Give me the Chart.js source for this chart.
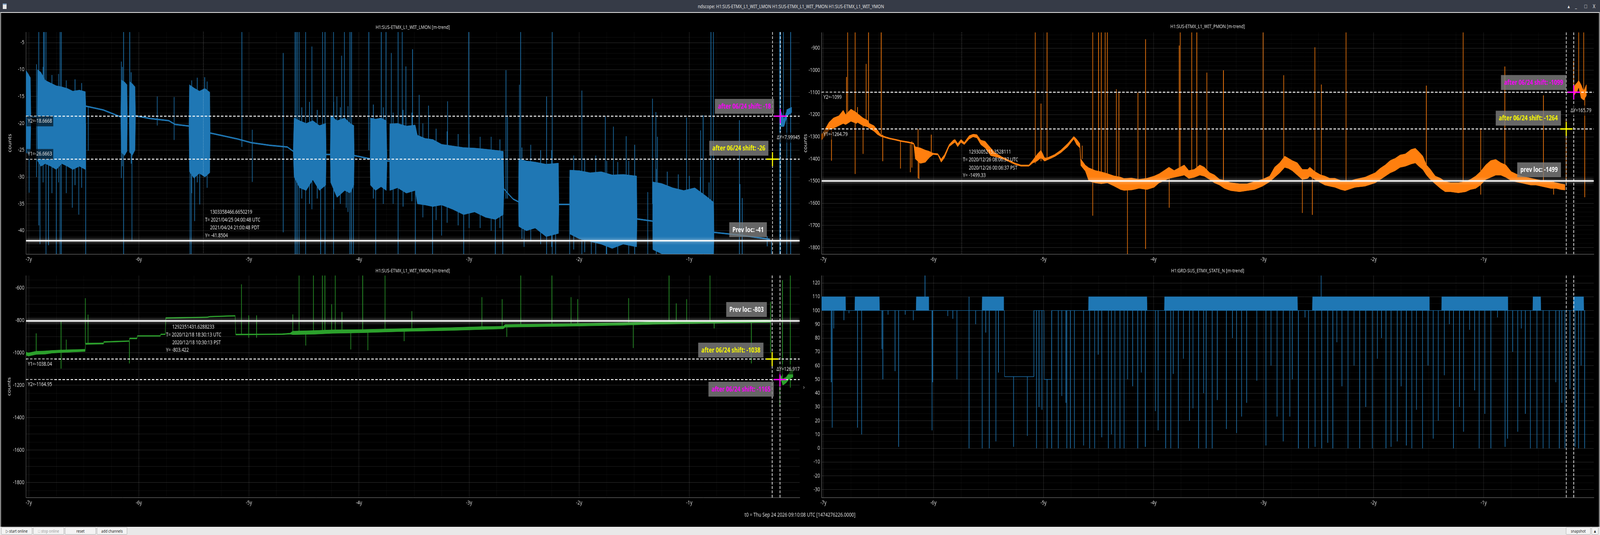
<!DOCTYPE html>
<html>
<head>
<meta charset="utf-8">
<title>ndscope</title>
<script src="https://cdn.jsdelivr.net/npm/chart.js@4.4.1/dist/chart.umd.min.js"></script>
<style>
    html, body { margin: 0; padding: 0; background: #000; overflow: hidden; font-family: "Noto Sans", sans-serif; }
    #page { position: absolute; left: 0; top: 0; width: 5120px; height: 1369px; transform-origin: 0 0; background: #000; }
    #titlebar { position: absolute; left: 0; top: 0; width: 5120px; height: 32px; background: #363b47; color: #e4e4e4; font-size: 13px; }
    #titlebar .t { position: absolute; left: 2233px; top: 7px; white-space: nowrap; }
    #titlebar .icon { position: absolute; left: 9px; top: 9px; width: 12px; height: 14px; background: #e8e8e8; border-top: 3px solid #7a9cc0; box-sizing: border-box; }
    #titlebar .ctl { position: absolute; top: 6px; font-size: 14px; }
    #frame { position: absolute; left: 1px; top: 31px; width: 5114px; height: 1316px; border: 2px solid #e6e6e6; border-bottom: none; }
    canvas { position: absolute; }
    #t0 { position: absolute; left: 0; top: 1307px; width: 5120px; text-align: center; color: #e0e0e0; font-size: 14px; }
    #chev { position: absolute; left: 2570px; top: 979px; color: #bbb; font-size: 16px; }
    #toolbar { position: absolute; left: 0; top: 1348px; width: 5120px; height: 21px; background: #e9e9e9; }
    #toolbar .b { position: absolute; top: 1px; height: 19px; border: 1px solid #a8a8a8; border-radius: 2px; background: #f4f4f4; font-size: 11px; line-height: 18px; color: #222; text-align: center; box-sizing: border-box; }
</style>
</head>
<body>
<div id="page">
<div id="titlebar">
    <div class="icon"></div>
    <div class="t">ndscope: H1:SUS-ETMX_L1_WIT_LMON H1:SUS-ETMX_L1_WIT_PMON H1:SUS-ETMX_L1_WIT_YMON</div>
    <div class="ctl" style="left:5016px">&#9652;</div>
    <div class="ctl" style="left:5040px">_</div>
    <div class="ctl" style="left:5070px">&#9633;</div>
    <div class="ctl" style="left:5097px">X</div>
</div>
<div id="frame"></div>

<canvas id="p1" width="2570" height="647" style="left:0;top:33px"></canvas>
<canvas id="p2" width="2550" height="647" style="left:2570px;top:33px"></canvas>
<canvas id="p3" width="2570" height="640" style="left:0;top:680px"></canvas>
<canvas id="p4" width="2550" height="640" style="left:2570px;top:680px"></canvas>

<div id="chev">&#8250;</div>
<div id="t0">t0 = Thu Sep 24 2026 09:10:08 UTC [1474276226.0000]</div>
<div id="toolbar">
    <div class="b" style="left:4px;width:99px;">&#9655; start online</div>
    <div class="b" style="left:106px;width:99px;color:#999;">&#9633; stop online</div>
    <div class="b" style="left:208px;width:99px;">reset</div>
    <div class="b" style="left:310px;width:97px;">add channels</div>
    <div class="b" style="left:5011px;width:79px;">snapshot</div>
    <div class="b" style="left:5093px;width:22px;">&#9650;</div>
</div>
</div>

<script>
/**
 * Data: time in years relative to t0; envelopes are [t, min, max] (null = gap),
 * spikes are [t, low, high]
 */
const xLabels = [-7, -6, -5, -4, -3, -2, -1];

// H1:SUS-ETMX_L1_WIT_LMON
const lmonYLabels = [-40, -35, -30, -25, -20, -15, -10, -5];
const lmonEnv = [
    [-7.026, -25.4, -10.1], [-7.005, -25.8, -10.8], [-6.985, -25.0, -11.5],
    [-6.980, -18.9, -18.7], [-6.922, -18.9, -18.7],
    [-6.920, -27.0, -10.0], [-6.890, -28.0, -10.5], [-6.850, -27.5, -12.0], [-6.800, -28.0, -12.5],
    [-6.750, -28.6, -13.0], [-6.700, -27.5, -13.2], [-6.650, -28.0, -13.5], [-6.600, -28.6, -14.0],
    [-6.540, -28.0, -13.8], [-6.486, -28.6, -14.1],
    [-6.482, -16.9, -16.7], [-6.324, -17.6, -17.4], [-6.165, -18.9, -18.7],
    [-6.160, -25.4, -11.9], [-6.130, -26.0, -12.3], [-6.108, -25.2, -12.8],
    [-6.104, -18.8, -18.6], [-6.088, -18.8, -18.6],
    [-6.085, -25.4, -12.2], [-6.060, -26.0, -12.6], [-6.035, -25.0, -13.2],
    [-6.030, -18.7, -18.5], [-5.898, -19.2, -19.0], [-5.728, -19.6, -19.4], [-5.671, -20.3, -20.1], [-5.545, -20.6, -20.4],
    [-5.541, -29.0, -12.8], [-5.500, -30.2, -13.4], [-5.450, -29.3, -14.0], [-5.400, -30.0, -13.5], [-5.356, -29.2, -14.2],
    [-5.352, -21.9, -21.7], [-5.106, -23.0, -22.8], [-4.979, -23.7, -23.5], [-4.808, -24.2, -24.0],
    [-4.652, -24.5, -24.3], [-4.598, -25.3, -25.1],
    [-4.590, -30.0, -19.0], [-4.540, -32.0, -19.5], [-4.480, -32.5, -20.0], [-4.420, -30.5, -19.5],
    [-4.360, -32.5, -20.4], [-4.302, -31.5, -20.0],
    [-4.298, -25.9, -25.7], [-4.262, -25.9, -25.7],
    [-4.258, -31.0, -18.5], [-4.200, -33.8, -19.5], [-4.130, -32.5, -19.0], [-4.080, -33.0, -20.0], [-4.047, -31.5, -20.4],
    [-4.043, -26.1, -25.9], [-3.899, -26.7, -26.5],
    [-3.897, -31.5, -19.0], [-3.850, -32.5, -19.2], [-3.800, -31.8, -19.0], [-3.752, -32.5, -19.5],
    [-3.745, -27.1, -26.9], [-3.723, -27.1, -26.9],
    [-3.721, -32.5, -20.1], [-3.650, -32.0, -20.0], [-3.570, -33.0, -20.5], [-3.490, -32.5, -20.3],
    [-3.470, -35.0, -22.2], [-3.400, -35.2, -22.8], [-3.330, -35.5, -23.0], [-3.250, -35.2, -23.9],
    [-3.150, -36.0, -24.2], [-3.050, -37.0, -24.5], [-2.950, -36.5, -24.6], [-2.850, -37.5, -24.8],
    [-2.760, -37.9, -25.0], [-2.690, -37.0, -25.2],
    [-2.683, -32.3, -32.1], [-2.650, -33.1, -32.9], [-2.600, -34.2, -34.0], [-2.552, -34.7, -34.5],
    [-2.549, -39.2, -26.6], [-2.480, -40.0, -27.0], [-2.400, -39.5, -27.2], [-2.300, -41.1, -27.6], [-2.188, -40.5, -27.4],
    [-2.184, -35.2, -35.0], [-2.088, -35.2, -35.0],
    [-2.086, -40.6, -28.7], [-2.000, -41.5, -28.8], [-1.900, -42.0, -29.2], [-1.800, -42.5, -29.0],
    [-1.700, -43.3, -29.6], [-1.600, -42.5, -29.5], [-1.478, -43.0, -29.8],
    [-1.474, -37.9, -37.7], [-1.333, -38.3, -38.1],
    [-1.331, -43.5, -30.9], [-1.250, -44.3, -31.2], [-1.150, -44.3, -32.0], [-1.050, -44.3, -32.5],
    [-0.950, -44.3, -32.0], [-0.850, -44.3, -33.5], [-0.778, -44.3, -34.7],
    [-0.775, -40.4, -40.2], [-0.545, -40.9, -40.7], [-0.298, -41.6, -41.4], [-0.270, -41.7, -41.5],
    null,
    [-0.170, -20.6, -17.6], [-0.140, -20.6, -19.2], [-0.110, -18.6, -17.4], [-0.071, -18.0, -17.0]
];
const lmonSpikes = [
    [-6.997, -32.9, -12], [-6.930, -30, -9], [-6.909, -39, -2], [-6.898, -42.5, -20], [-6.870, -31, -9.5],
    [-6.866, -22, -2], [-6.858, -20, -2], [-6.844, -45, -2], [-6.821, -42.7, -20], [-6.790, -33, -11],
    [-6.750, -45, -22], [-6.730, -31, -10.8], [-6.716, -45, -2], [-6.705, -45, -2], [-6.660, -33, -12],
    [-6.605, -35.7, -20], [-6.580, -31.5, -11.8], [-6.546, -37, -20], [-6.520, -32, -12.5],
    [-6.483, -45, -20], [-6.460, -25.1, -17], [-6.159, -30.2, -8.5], [-6.150, -28, -9.5],
    [-6.139, -45, -2], [-6.083, -20, -2], [-6.070, -27.5, -10.5], [-6.063, -42, -20],
    [-5.833, -20.4, -15], [-5.680, -23.1, -15.1], [-5.535, -45, -13], [-5.524, -45, -20],
    [-5.520, -33, -12], [-5.493, -38.2, -20], [-5.470, -31, -11.5], [-5.447, -35.1, -20],
    [-5.402, -22, -11.4], [-5.380, -32, -12.2],
    [-5.064, -24.4, -2], [-4.970, -30.9, -21.2], [-4.689, -40.3, -6.9],
    [-4.581, -45, -2], [-4.570, -45, -2], [-4.559, -45, -2], [-4.544, -45, -2], [-4.520, -34, -17],
    [-4.485, -45, -2], [-4.450, -35, -16], [-4.428, -36, -5.7], [-4.380, -34, -17.5],
    [-4.349, -45, -25], [-4.331, -25, -2], [-4.309, -45, -2], [-4.232, -45, -2], [-4.230, -36, -16],
    [-4.201, -25, -15], [-4.170, -35, -17], [-4.158, -25, -7.4], [-4.133, -25, -2], [-4.116, -35.7, -25],
    [-4.100, -36.5, -16.8], [-4.082, -45, -2], [-4.068, -45, -2], [-4.051, -45, -25], [-3.911, -25, -2],
    [-3.870, -34, -16.5], [-3.849, -45, -25], [-3.798, -25, -2], [-3.780, -35, -17], [-3.755, -25, -2],
    [-3.707, -25, -6.9], [-3.690, -35, -18], [-3.645, -45, -2], [-3.608, -25, -2], [-3.600, -35.5, -17.5],
    [-3.574, -25, -9.4], [-3.520, -34.5, -18], [-3.514, -25, -6.2], [-3.488, -45, -28], [-3.454, -25, -14.7],
    [-3.420, -37.5, -20], [-3.369, -25, -16.7], [-3.332, -45, -28], [-3.300, -38, -21], [-3.250, -40.9, -30],
    [-3.200, -38.5, -21.5], [-3.196, -26, -15.9], [-3.100, -39, -22], [-3.049, -45, -30], [-3.003, -30, -2],
    [-3.000, -39.5, -22], [-2.900, -39.5, -22.5], [-2.800, -40, -22.5], [-2.762, -45, -30],
    [-2.720, -39.5, -23], [-2.694, -45, -30], [-2.665, -34, -10.1], [-2.651, -34, -18.5],
    [-2.543, -30, -12.8], [-2.532, -30, -2], [-2.520, -41.5, -24.5], [-2.501, -43, -30],
    [-2.440, -42, -24], [-2.350, -42.5, -25], [-2.296, -45, -15], [-2.250, -43, -25], [-2.245, -45, -2],
    [-2.214, -45, -30], [-2.086, -45, -30], [-2.050, -43.5, -26], [-1.976, -45, -13.9], [-1.950, -44, -26.5],
    [-1.890, -45, -30], [-1.850, -44.5, -26], [-1.763, -32, -18.7], [-1.754, -45, -32], [-1.750, -45, -27],
    [-1.689, -32, -20.6], [-1.650, -44.5, -27.2], [-1.573, -32, -22.4], [-1.550, -45, -27],
    [-1.496, -45, -24], [-1.377, -45, -32.8], [-1.334, -35, -15.4], [-1.303, -35, -17.9],
    [-1.300, -45, -28.5], [-1.289, -35, -22.5], [-1.200, -45, -29], [-1.100, -45, -29.5],
    [-1.025, -35, -18.9], [-1.000, -45, -29.8], [-0.900, -45, -30], [-0.897, -35, -21.3],
    [-0.874, -35, -18.5], [-0.820, -45, -31], [-0.803, -45, -2], [-0.781, -35, -2],
    [-0.545, -45, -19.4], [-0.539, -41, -31.3], [-0.519, -45, -33.9], [-0.292, -42.9, -41],
    [-0.253, -45, -41.7], [-0.179, -45, -2], [-0.170, -45, -2], [-0.145, -20.6, -2],
    [-0.114, -45, -17.4], [-0.079, -45, -2]
];

// H1:SUS-ETMX_L1_WIT_PMON
const pmonYLabels = [-1800, -1700, -1600, -1500, -1400, -1300, -1200, -1100, -1000, -900];
const pmonEnv = [
    [-7.018, -1315, -1290], [-6.990, -1300, -1270], [-6.950, -1270, -1235], [-6.909, -1262, -1215],
    [-6.860, -1250, -1205], [-6.820, -1240, -1180], [-6.798, -1245, -1200], [-6.750, -1230, -1175],
    [-6.700, -1240, -1190], [-6.690, -1235, -1195], [-6.640, -1250, -1215], [-6.600, -1255, -1225],
    [-6.582, -1262, -1240], [-6.540, -1275, -1250], [-6.508, -1290, -1270], [-6.480, -1298, -1290],
    [-6.455, -1302, -1296], [-6.400, -1310, -1305], [-6.350, -1315, -1310], [-6.292, -1322, -1317],
    [-6.230, -1327, -1322], [-6.180, -1333, -1328], [-6.165, -1400, -1345], [-6.120, -1420, -1350],
    [-6.074, -1415, -1360], [-6.040, -1395, -1365], [-6.003, -1380, -1374], [-5.960, -1382, -1376],
    [-5.930, -1415, -1400], [-5.900, -1395, -1380], [-5.858, -1345, -1335], [-5.820, -1330, -1315],
    [-5.804, -1325, -1312], [-5.780, -1345, -1330], [-5.750, -1325, -1312], [-5.720, -1335, -1325],
    [-5.676, -1310, -1295], [-5.640, -1300, -1288], [-5.605, -1305, -1290], [-5.570, -1335, -1315],
    [-5.531, -1350, -1320], [-5.480, -1385, -1350], [-5.440, -1390, -1372], [-5.380, -1398, -1390],
    [-5.315, -1412, -1405], [-5.260, -1425, -1418], [-5.205, -1433, -1427], [-5.133, -1433, -1427],
    [-5.097, -1418, -1405], [-5.060, -1410, -1380], [-5.023, -1395, -1360], [-4.990, -1410, -1395],
    [-4.968, -1405, -1395], [-4.900, -1390, -1380], [-4.843, -1372, -1360], [-4.780, -1345, -1330],
    [-4.725, -1310, -1298], [-4.700, -1335, -1310], [-4.670, -1350, -1330], [-4.661, -1430, -1400],
    [-4.620, -1455, -1428], [-4.588, -1500, -1440],
    [-4.530, -1508, -1452], [-4.475, -1512, -1458],
    [-4.420, -1508, -1466], [-4.361, -1522, -1476], [-4.300, -1538, -1482], [-4.269, -1542, -1488],
    [-4.200, -1540, -1486], [-4.132, -1533, -1492], [-4.060, -1538, -1487], [-3.995, -1528, -1477],
    [-3.950, -1508, -1467], [-3.904, -1498, -1452], [-3.860, -1488, -1437], [-3.813, -1483, -1452],
    [-3.721, -1473, -1427], [-3.680, -1488, -1452], [-3.630, -1483, -1447], [-3.580, -1473, -1427],
    [-3.539, -1478, -1437], [-3.490, -1493, -1462], [-3.447, -1508, -1472], [-3.400, -1518, -1492],
    [-3.356, -1533, -1497], [-3.300, -1543, -1507], [-3.219, -1548, -1512], [-3.150, -1543, -1512],
    [-3.082, -1538, -1502], [-3.010, -1523, -1492], [-2.945, -1503, -1477], [-2.900, -1483, -1437],
    [-2.854, -1463, -1417], [-2.808, -1438, -1387], [-2.774, -1443, -1397], [-2.740, -1453, -1407],
    [-2.694, -1473, -1417], [-2.648, -1493, -1447], [-2.600, -1488, -1447], [-2.580, -1478, -1437],
    [-2.534, -1493, -1457], [-2.480, -1508, -1472], [-2.443, -1518, -1477], [-2.400, -1523, -1487],
    [-2.352, -1528, -1487], [-2.300, -1538, -1497], [-2.260, -1543, -1502], [-2.200, -1533, -1497],
    [-2.169, -1528, -1492], [-2.078, -1523, -1482], [-1.986, -1508, -1462], [-1.940, -1493, -1442],
    [-1.895, -1478, -1427], [-1.850, -1463, -1407], [-1.804, -1453, -1397], [-1.760, -1438, -1382],
    [-1.712, -1433, -1377], [-1.660, -1423, -1357], [-1.621, -1418, -1352], [-1.590, -1433, -1367],
    [-1.553, -1448, -1387], [-1.520, -1473, -1427], [-1.484, -1493, -1447], [-1.440, -1513, -1477],
    [-1.393, -1533, -1487], [-1.350, -1548, -1502], [-1.301, -1548, -1507], [-1.230, -1553, -1507],
    [-1.164, -1548, -1502], [-1.120, -1538, -1492], [-1.073, -1533, -1477], [-1.030, -1518, -1457],
    [-0.982, -1493, -1427], [-0.936, -1483, -1407], [-0.890, -1473, -1402], [-0.845, -1473, -1417],
    [-0.799, -1483, -1427], [-0.750, -1498, -1457], [-0.708, -1503, -1467], [-0.660, -1508, -1477],
    [-0.616, -1513, -1482], [-0.570, -1518, -1487], [-0.525, -1518, -1492], [-0.480, -1523, -1497],
    [-0.434, -1528, -1497], [-0.390, -1533, -1502], [-0.342, -1533, -1507], [-0.300, -1538, -1512],
    [-0.262, -1540, -1515],
    null,
    [-0.180, -1115, -1075], [-0.169, -1105, -1065], [-0.150, -1095, -1055], [-0.137, -1075, -1045],
    [-0.115, -1125, -1065], [-0.091, -1135, -1095], [-0.068, -1115, -1065]
];
const pmonSpikes = [
    [-6.927, -1408, -1250], [-6.790, -1230, -1030], [-6.780, -1240, -820], [-6.712, -1468, -820],
    [-6.690, -1220, -1166], [-6.640, -1377, -1230], [-6.612, -1230, -971], [-6.590, -1250, -820],
    [-6.475, -1290, -820], [-6.461, -1410, -1290], [-6.300, -1443, -1320], [-6.210, -1460, -1333],
    [-6.196, -1439, -1320], [-6.140, -1487, -1265], [-6.132, -1490, -1400], [-6.020, -1380, -1290],
    [-5.075, -1420, -820], [-5.023, -1410, -1150], [-4.968, -1400, -820], [-4.648, -1400, -1340],
    [-4.553, -1656, -820], [-4.500, -1480, -820], [-4.475, -1480, -820], [-4.440, -1480, -820],
    [-4.420, -1480, -820], [-4.338, -1480, -1085],
    [-4.315, -1480, -1097], [-4.237, -1840, -1500], [-4.142, -1500, -1101], [-4.073, -1806, -860],
    [-3.858, -1620, -1480], [-3.767, -1470, -888], [-3.758, -1470, -820], [-3.653, -1450, -820],
    [-3.607, -1450, -820], [-3.516, -1450, -1010], [-3.365, -1500, -1000], [-3.005, -1500, -820],
    [-2.817, -1420, -1022], [-2.648, -1644, -1460], [-2.557, -1652, -1460], [-2.534, -1460, -896],
    [-2.475, -1490, -1064], [-2.251, -1510, -820], [-1.521, -1460, -1069], [-1.187, -1520, -820],
    [-1.027, -1561, -1262], [-0.808, -1450, -983], [-0.457, -1500, -1113], [-0.365, -1561, -1500],
    [-0.251, -1510, -1219], [-0.183, -1100, -959], [-0.137, -1080, -820], [-0.091, -1120, -820],
    [-0.082, -1573, -1100]
];

// H1:SUS-ETMX_L1_WIT_YMON
const ymonYLabels = [-1800, -1600, -1400, -1200, -1000, -800, -600];
const ymonEnv = [
    [-7.027, -1015, -995], [-7.003, -1020, -1000], [-6.933, -1010, -990], [-6.850, -1008, -988],
    [-6.792, -1002, -985], [-6.700, -998, -982], [-6.600, -995, -980], [-6.500, -992, -978],
    [-6.488, -992, -978], [-6.484, -948, -940], [-6.321, -946, -938], [-6.319, -936, -930],
    [-6.156, -932, -926], [-6.088, -930, -925], [-6.084, -914, -908], [-6.017, -914, -908],
    [-6.013, -898, -893], [-5.805, -898, -893], [-5.801, -888, -883], [-5.760, -888, -883],
    [-5.756, -788, -782], [-5.379, -783, -778], [-5.355, -779, -774], [-5.125, -774, -769],
    [-5.120, -890, -884], [-4.700, -888, -882], [-4.625, -885, -878], [-4.602, -888, -866],
    [-4.400, -885, -862], [-4.249, -880, -858], [-3.967, -876, -856], [-3.590, -868, -850],
    [-3.166, -862, -844], [-2.884, -856, -838], [-2.690, -852, -836], [-2.672, -842, -825],
    [-2.083, -836, -820], [-1.613, -830, -814], [-1.330, -824, -808], [-0.812, -818, -801],
    [-0.300, -813, -797], [-0.262, -812, -798],
    null,
    [-0.178, -1180, -1150], [-0.165, -1170, -1140], [-0.150, -1200, -1160], [-0.120, -1185, -1150],
    [-0.090, -1160, -1120], [-0.059, -1150, -1100]
];
const ymonSpikes = [
    [-6.933, -1010, -880], [-6.707, -1097, -806], [-6.660, -990, -918], [-6.486, -944, -663],
    [-6.462, -944, -764], [-6.086, -1065, -928], [-5.068, -886, -577], [-5.002, -907, -769],
    [-4.931, -907, -769], [-4.602, -880, -763], [-4.545, -880, -510], [-4.484, -955, -870],
    [-4.414, -880, -510], [-4.333, -880, -510], [-4.310, -880, -510], [-4.249, -880, -700],
    [-4.216, -880, -510], [-4.155, -880, -748], [-4.075, -979, -870], [-3.967, -870, -510],
    [-3.920, -984, -865], [-3.764, -865, -510], [-3.590, -928, -855], [-3.520, -855, -743],
    [-2.884, -850, -656], [-2.700, -840, -669], [-2.658, -902, -835], [-2.531, -835, -510],
    [-2.248, -830, -510], [-2.074, -828, -656], [-2.013, -828, -669], [-1.551, -820, -663],
    [-1.509, -970, -820], [-1.184, -815, -510], [-1.118, -815, -695], [-1.024, -815, -669],
    [-0.812, -810, -510], [-0.774, -849, -805], [-0.436, -1065, -800], [-0.262, -1000, -685],
    [-0.177, -1330, -1150], [-0.153, -1150, -552], [-0.082, -1214, -510]
];

// H1:GRD-SUS_ETMX_STATE_N
const stateYLabels = [-30, -20, -10, 0, 10, 20, 30, 40, 50, 60, 70, 80, 90, 100, 110, 120];
const stateEnv = [
    [-7.021, 100, 110], [-6.800, 100, 110], [-6.798, 100, 100], [-6.715, 100, 100],
    [-6.713, 100, 110], [-6.492, 100, 110], [-6.490, 100, 100], [-6.158, 100, 100],
    [-6.156, 100, 110], [-6.045, 100, 110], [-6.043, 100, 100], [-5.559, 100, 100],
    [-5.557, 100, 110], [-5.364, 100, 110], [-5.362, 100, 100], [-5.356, 100, 100],
    [-5.354, 52, 52], [-5.088, 52, 52], [-5.086, 100, 100], [-4.996, 100, 100],
    [-4.994, 50, 50], [-4.927, 50, 50], [-4.925, 100, 100], [-4.592, 100, 100],
    [-4.590, 100, 110], [-4.061, 100, 110], [-4.059, 100, 100], [-3.902, 100, 100],
    [-3.900, 100, 110], [-2.693, 100, 110], [-2.691, 100, 100], [-2.557, 100, 100],
    [-2.555, 100, 110], [-1.496, 100, 110], [-1.494, 100, 100], [-1.383, 100, 100],
    [-1.381, 100, 110], [-0.783, 100, 110], [-0.781, 100, 100], [-0.554, 100, 100],
    [-0.552, 100, 110], [-0.483, 100, 110], [-0.481, 100, 100], [-0.186, 100, 100],
    [-0.184, 100, 110], [-0.092, 100, 110], [-0.090, 100, 100], [-0.078, 100, 100]
];
const stateSpikes = [
    [-6.929, 48, 100], [-6.920, 15, 100], [-6.906, 87, 100], [-6.814, 93, 100], [-6.768, 98, 100],
    [-6.690, 15, 100], [-6.653, 10, 100], [-6.469, 72, 100], [-6.460, 50, 100], [-6.413, 97, 100],
    [-6.349, 56, 100], [-6.317, 1, 100], [-6.257, 97, 100], [-6.183, 93, 100], [-6.077, 100, 126],
    [-6.013, 13, 100], [-6.008, 48, 100], [-5.870, 96, 100], [-5.824, 94, 100], [-5.787, 50, 100],
    [-5.677, 0, 110], [-5.617, 90, 100], [-5.557, 0, 100], [-5.525, 84, 100], [-5.493, 0, 100],
    [-5.433, 5, 100], [-5.410, 55, 100], [-5.272, 1, 52], [-5.147, 9, 52], [-5.064, 0, 100],
    [-5.041, 30, 100], [-5.014, 28, 100], [-4.968, 0, 50], [-4.926, 0, 100], [-4.866, 0, 100],
    [-4.834, 38, 100], [-4.797, 33, 100], [-4.788, 0, 100], [-4.756, 0, 100], [-4.719, 0, 100],
    [-4.636, 2, 100], [-4.581, 0, 100], [-4.535, 0, 100], [-4.503, 68, 100], [-4.471, 8, 100],
    [-4.411, 0, 100], [-4.383, 10, 100], [-4.351, 0, 100], [-4.305, 0, 100], [-4.268, 0, 100],
    [-4.236, 50, 100], [-4.190, 45, 100], [-4.144, 0, 100], [-4.111, 55, 100], [-4.075, 1, 100],
    [-3.983, 27, 100], [-3.959, 13, 100], [-3.890, 0, 100], [-3.844, 0, 100], [-3.821, 54, 100],
    [-3.775, 0, 100], [-3.729, 65, 100], [-3.674, 20, 100], [-3.642, 29, 100], [-3.591, 0, 100],
    [-3.545, 40, 100], [-3.522, 0, 100], [-3.467, 0, 100], [-3.421, 35, 100], [-3.338, 14, 100],
    [-3.283, 80, 100], [-3.246, 11, 100], [-3.200, 23, 100], [-3.154, 33, 100], [-3.062, 49, 100],
    [-2.979, 2, 100], [-2.933, 60, 100], [-2.878, 23, 100], [-2.822, 5, 100], [-2.762, 23, 100],
    [-2.739, 50, 100], [-2.684, 0, 100], [-2.624, 95, 100], [-2.592, 0, 100], [-2.532, 1, 100],
    [-2.477, 100, 126], [-2.472, 0, 100], [-2.417, 4, 100], [-2.371, 0, 100], [-2.334, 77, 100],
    [-2.288, 45, 100], [-2.233, 0, 100], [-2.178, 60, 100], [-2.127, 0, 100], [-2.072, 30, 100],
    [-2.012, 0, 100], [-1.966, 65, 100], [-1.929, 80, 100], [-1.888, 0, 100], [-1.842, 1, 100],
    [-1.786, 5, 100], [-1.750, 45, 100], [-1.703, 2, 100], [-1.653, 0, 100], [-1.611, 28, 100],
    [-1.556, 0, 100], [-1.506, 60, 100], [-1.459, 7, 100], [-1.413, 20, 100], [-1.358, 53, 100],
    [-1.312, 90, 100], [-1.275, 0, 100], [-1.220, 30, 100], [-1.183, 12, 100], [-1.128, 86, 100],
    [-1.082, 42, 100], [-1.041, 0, 100], [-0.990, 25, 100], [-0.935, 0, 100], [-0.875, 95, 100],
    [-0.806, 1, 100], [-0.783, 7, 100], [-0.737, 70, 100], [-0.691, 12, 100], [-0.658, 87, 100],
    [-0.622, 25, 100], [-0.576, 0, 100], [-0.516, 0, 100], [-0.460, 0, 100], [-0.405, 0, 100],
    [-0.345, 48, 100], [-0.313, 0, 100], [-0.290, 33, 100], [-0.262, 0, 100], [-0.216, 43, 100],
    [-0.170, 1, 100], [-0.138, 0, 100], [-0.115, 60, 100], [-0.083, 0, 100]
];

/**
 * Cursor / annotation overlays (ndscope markers)
 */
const OVERLAYS = {
    p1: {
        title: 'H1:SUS-ETMX_L1_WIT_LMON [m-trend]', titleGap: 12, yName: 'counts', yNameX: 32,
        cursors: [-0.244, -0.173], y1: -26.6663, y2: -18.6668, prev: -41.8504,
        y1Label: ['Y1=-26.6663', -13], y2Label: ['Y2=-18.6668', 13], dy: 'ΔY=7.99945',
        boxes: [
            ['after 06/24 shift: -18', '#ff00ff', -0.230, -16.83],
            ['after 06/24 shift: -26', '#ffff00', -0.281, -24.63],
            ['Prev loc: -41', '#ffffff', -0.295, -39.8]
        ],
        pick: {t: -5.416, y: -41.8504, dotted: true, dy: [-73, -53, -33, -13], dx: [22, 6, 22, 6],
            lines: ['1303358466.6650219', 'T= 2021/04/25 04:00:48 UTC', '2021/04/24 21:00:48 PDT', 'Y= -41.8504']}
    },
    p2: {
        title: 'H1:SUS-ETMX_L1_WIT_PMON [m-trend]', titleGap: 15, yName: 'counts', yNameX: 8,
        cursors: [-0.250, -0.182], y1: -1264.79, y2: -1099, prev: -1499.33,
        y1Label: ['Y1=-1264.79', 14], y2Label: ['Y2=-1099', 13], dy: 'ΔY=165.79',
        boxes: [
            ['after 06/24 shift: -1099', '#ff00ff', -0.250, -1055],
            ['after 06/24 shift: -1264', '#ffff00', -0.298, -1216],
            ['prev loc: -1499', '#ffffff', -0.298, -1449]
        ],
        pick: {t: -5.744, y: -1499.33, dotted: true, dy: [-74, -54, -33, -14], dx: [23, 4, 23, 4],
            lines: ['1293005215.3528111', 'T= 2020/12/26 08:06:37 UTC', '2020/12/26 00:06:37 PST', 'Y= -1499.33']}
    },
    p3: {
        title: 'H1:SUS-ETMX_L1_WIT_YMON [m-trend]', titleGap: 12, yName: 'counts', yNameX: 30,
        cursors: [-0.247, -0.176], y1: -1038.04, y2: -1164.95, prev: -803.422,
        y1Label: ['Y1=-1038.04', 13], y2Label: ['Y2=-1164.95', 13], dy: 'ΔY=126.917',
        boxes: [
            ['Prev loc: -803', '#ffffff', -0.295, -732.5],
            ['after 06/24 shift: -1038', '#ffff00', -0.326, -983],
            ['after 06/24 shift: -1165', '#ff00ff', -0.233, -1224]
        ],
        pick: {t: -5.768, y: -803.422, dotted: false, dy: [16, 36, 56, 75], dx: [25, 5, 25, 5],
            lines: ['1292351431.6288233', 'T= 2020/12/18 18:30:13 UTC', '2020/12/18 10:30:13 PST', 'Y= -803.422']}
    },
    p4: {
        title: 'H1:GRD-SUS_ETMX_STATE_N [m-trend]', titleGap: 12,
        cursors: [-0.250, -0.182]
    }
};

const FONT = '"Noto Sans", sans-serif';

// fit the 5120 wide layout into whatever the window really is
(function fitPage() {
    const sx = Math.min(1, window.innerWidth / 5120);
    const sy = Math.min(1, window.innerHeight / 1369);
    document.getElementById('page').style.transform = 'scale(' + sx + ',' + sy + ')';
})();

function crossAt(ctx, x, y, color) {
    ctx.strokeStyle = color;
    ctx.lineWidth = 3.5;
    ctx.setLineDash([]);
    ctx.beginPath();
    ctx.moveTo(x - 20, y); ctx.lineTo(x + 20, y);
    ctx.moveTo(x, y - 18); ctx.lineTo(x, y + 18);
    ctx.stroke();
}

function darkLabel(ctx, text, x, y) {
    ctx.font = '13.5px ' + FONT;
    const w = ctx.measureText(text).width;
    ctx.fillStyle = 'rgba(0,0,0,0.6)';
    ctx.fillRect(x, y - 13, w + 8, 26);
    ctx.fillStyle = '#e8e8e8';
    ctx.textAlign = 'left';
    ctx.textBaseline = 'middle';
    ctx.fillText(text, x + 4, y);
}

const overlayPlugin = {
    id: 'ndsOverlay',
    afterDraw(chart) {
        const o = OVERLAYS[chart.canvas.id];
        if (!o) return;
        const ctx = chart.ctx;
        const a = chart.chartArea;
        const X = v => chart.scales.x.getPixelForValue(v);
        const Y = v => chart.scales.y.getPixelForValue(v);
        ctx.save();

        // title and axis name
        ctx.fillStyle = '#e6e6e6';
        ctx.textAlign = 'center';
        ctx.textBaseline = 'middle';
        ctx.font = '13px ' + FONT;
        ctx.fillText(o.title, (a.left + a.right) / 2, a.top - o.titleGap);
        if (o.yName) {
            ctx.save();
            ctx.translate(o.yNameX, (a.top + a.bottom) / 2);
            ctx.rotate(-Math.PI / 2);
            ctx.font = '15px ' + FONT;
            ctx.fillText(o.yName, 0, 0);
            ctx.restore();
        }

        // lines inside the plot
        ctx.save();
        ctx.beginPath();
        ctx.rect(a.left, a.top, a.right - a.left, a.bottom - a.top);
        ctx.clip();
        if (o.pick && o.pick.dotted) {
            ctx.strokeStyle = '#ffffff';
            ctx.lineWidth = 1;
            ctx.setLineDash([1, 3]);
            ctx.beginPath();
            ctx.moveTo(X(o.pick.t) + 0.5, a.top);
            ctx.lineTo(X(o.pick.t) + 0.5, a.bottom);
            ctx.stroke();
        }
        if (o.prev !== undefined) {
            ctx.save();
            ctx.strokeStyle = '#ffffff';
            ctx.lineWidth = 3.5;
            ctx.shadowColor = 'rgba(255,255,255,0.9)';
            ctx.shadowBlur = 8;
            ctx.setLineDash([]);
            ctx.beginPath();
            ctx.moveTo(a.left, Y(o.prev));
            ctx.lineTo(a.right, Y(o.prev));
            ctx.stroke();
            ctx.restore();
        }
        ctx.strokeStyle = '#ffffff';
        ctx.lineWidth = 2.5;
        ctx.setLineDash([8, 5]);
        [o.y1, o.y2].forEach(v => {
            if (v === undefined) return;
            ctx.beginPath();
            ctx.moveTo(a.left, Y(v));
            ctx.lineTo(a.right, Y(v));
            ctx.stroke();
        });
        ctx.lineWidth = 2;
        ctx.setLineDash([7, 4]);
        o.cursors.forEach(t => {
            ctx.beginPath();
            ctx.moveTo(X(t), a.top);
            ctx.lineTo(X(t), a.bottom);
            ctx.stroke();
        });
        ctx.restore();

        if (o.y1 !== undefined) {
            crossAt(ctx, X(o.cursors[0]), Y(o.y1), '#ffff00');
            crossAt(ctx, X(o.cursors[1]), Y(o.y2), '#ff00ff');
            darkLabel(ctx, o.y1Label[0], a.left + 2, Y(o.y1) + o.y1Label[1]);
            darkLabel(ctx, o.y2Label[0], a.left + 2, Y(o.y2) + o.y2Label[1]);
            darkLabel(ctx, o.dy, X(o.cursors[0]) + 10, (Y(o.y1) + Y(o.y2)) / 2);
        }

        // annotation boxes
        (o.boxes || []).forEach(b => {
            ctx.font = 'bold 17px ' + FONT;
            const w = ctx.measureText(b[0]).width + 20;
            const right = X(b[2]);
            const cy = Y(b[3]);
            ctx.fillStyle = 'rgba(128,128,128,0.8)';
            ctx.fillRect(right - w, cy - 19, w, 38);
            ctx.fillStyle = b[1];
            ctx.textAlign = 'center';
            ctx.textBaseline = 'middle';
            ctx.fillText(b[0], right - w / 2, cy + 1);
        });

        // picked point read-out
        if (o.pick) {
            const px = X(o.pick.t), py = Y(o.pick.y);
            ctx.font = '13.5px ' + FONT;
            ctx.fillStyle = '#e8e8e8';
            ctx.textAlign = 'left';
            ctx.textBaseline = 'middle';
            o.pick.lines.forEach((s, i) => ctx.fillText(s, px + o.pick.dx[i], py + o.pick.dy[i]));
        }
        ctx.restore();
    }
};

function stepTicks(min, max, step) {
    const out = [];
    for (let i = Math.ceil(min / step); i * step < max - 1e-9; i++) {
        if (i * step > min + 1e-9) out.push(i * step);
    }
    return out;
}

function hasVal(list, v) {
    return list.some(u => Math.abs(u - v) < 1e-6);
}

function envelopeSets(env, color) {
    const sets = [];
    let piece = [];
    const flush = () => {
        if (!piece.length) return;
        const top = piece.map(p => ({x: p[0], y: p[2]}));
        const bottom = piece.slice().reverse().map(p => ({x: p[0], y: p[1]}));
        sets.push({
            data: top.concat(bottom),
            borderColor: color, backgroundColor: color, borderWidth: 1,
            fill: 'shape', pointRadius: 0, tension: 0
        });
        piece = [];
    };
    env.forEach(p => { if (p === null) flush(); else piece.push(p); });
    flush();
    return sets;
}

function spikeSet(spikes, color) {
    const pts = [];
    spikes.forEach(s => {
        pts.push({x: s[0], y: s[1]}, {x: s[0], y: s[2]}, {x: s[0], y: null});
    });
    return {data: pts, borderColor: color, borderWidth: 2, pointRadius: 0, fill: false, spanGaps: false};
}

function makePanel(id, cfg) {
    const major = 'rgba(255,255,255,0.19)';
    const mid = 'rgba(255,255,255,0.12)';
    const minor = 'rgba(255,255,255,0.06)';
    const xTicks = stepTicks(cfg.x[0], cfg.x[1] - 0.01, 0.25);
    const yTicks = stepTicks(cfg.y[0], cfg.y[1], cfg.yStep);

    new Chart(document.getElementById(id), {
        type: 'line',
        data: {
            datasets: envelopeSets(cfg.env, cfg.color).concat([spikeSet(cfg.spikes, cfg.color)])
        },
        options: {
            responsive: false,
            animation: false,
            devicePixelRatio: 1,
            events: [],
            layout: {padding: cfg.pad},
            plugins: {legend: {display: false}, tooltip: {enabled: false}},
            scales: {
                x: {
                    type: 'linear', min: cfg.x[0], max: cfg.x[1], bounds: 'data',
                    afterBuildTicks: s => { s.ticks = xTicks.map(v => ({value: v})); },
                    afterFit: s => { s.height = 30; },
                    ticks: {
                        autoSkip: false, maxRotation: 0, minRotation: 0, padding: 6,
                        color: '#dcdcdc', font: {family: 'Noto Sans', size: 14},
                        callback: v => hasVal(xLabels, v) ? v + 'y' : ''
                    },
                    grid: {
                        drawTicks: false,
                        color: c => (c.tick && hasVal(xLabels, c.tick.value)) ? major : minor
                    },
                    border: {color: '#8c8c8c', width: 1}
                },
                y: {
                    type: 'linear', min: cfg.y[0], max: cfg.y[1], bounds: 'data',
                    afterBuildTicks: s => { s.ticks = yTicks.map(v => ({value: v})); },
                    afterFit: s => { s.width = cfg.yWidth; },
                    ticks: {
                        autoSkip: false, padding: 5,
                        color: '#dcdcdc', font: {family: 'Noto Sans', size: 14},
                        callback: v => hasVal(cfg.yLabels, v) ? String(v) : ''
                    },
                    grid: {
                        drawTicks: false,
                        color: c => {
                            if (!c.tick) return minor;
                            if (hasVal(cfg.yLabels, c.tick.value)) return major;
                            if (cfg.yMid && Math.abs(c.tick.value % cfg.yMid) < 1e-6) return mid;
                            return minor;
                        }
                    },
                    border: {color: '#8c8c8c', width: 1}
                }
            }
        },
        plugins: [overlayPlugin]
    });
}

makePanel('p1', {
    env: lmonEnv, spikes: lmonSpikes, color: '#1f77b4',
    x: [-7.026, 0.003], y: [-44.33, -3.0], yStep: 1, yLabels: lmonYLabels,
    pad: {left: 0, top: 49, right: 11, bottom: 0}, yWidth: 83
});
makePanel('p2', {
    env: pmonEnv, spikes: pmonSpikes, color: '#ff7f0e',
    x: [-7.017, 0], y: [-1829, -829], yStep: 20, yLabels: pmonYLabels,
    pad: {left: 0, top: 50, right: 20, bottom: 0}, yWidth: 59
});
makePanel('p3', {
    env: ymonEnv, spikes: ymonSpikes, color: '#2ca02c',
    x: [-7.026, 0.003], y: [-1892, -523], yStep: 50, yMid: 100, yLabels: ymonYLabels,
    pad: {left: 0, top: 25, right: 11, bottom: 17}, yWidth: 83
});
makePanel('p4', {
    env: stateEnv, spikes: stateSpikes, color: '#1f77b4',
    x: [-7.017, 0], y: [-35.7, 125.4], yStep: 5, yLabels: stateYLabels,
    pad: {left: 0, top: 25, right: 20, bottom: 17}, yWidth: 59
});
</script>
</body>
</html>
